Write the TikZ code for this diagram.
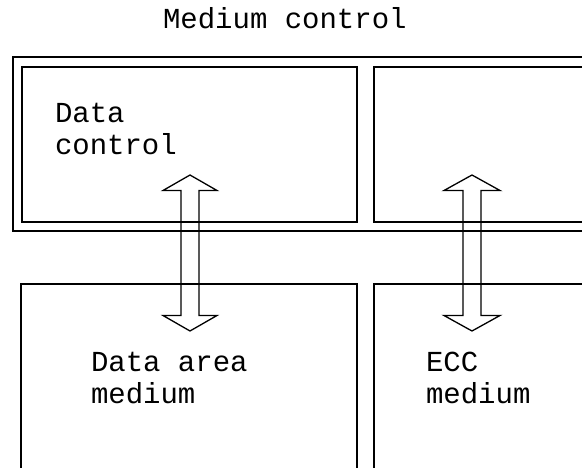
\documentclass[tikz,border=0pt]{standalone}
\usepackage{fontspec}
\setmonofont{Liberation Mono}
\usetikzlibrary{calc}
\tikzset{
  boxframe/.style={draw=black, line width=1.4pt, inner sep=0pt, outer sep=0pt, rectangle},
  lbl/.style={inner sep=0pt, outer sep=0pt, anchor=base west, align=left,
    font=\ttfamily\fontsize{29}{32}\selectfont},
  fatarrow/.style={draw=black, line width=1.3pt, line join=miter}
}
\begin{document}
\begin{tikzpicture}[x=1pt,y=-1pt]
\useasboundingbox (0,0) rectangle (582,468);
\clip (0,0) rectangle (582,468);
% title
\node[lbl] (title) at (163,29) {Medium control};
% outer frame of medium control
\node[boxframe, minimum width=600, minimum height=174] (outer) at (313,144) {};
% top boxes
\node[boxframe, minimum width=335, minimum height=155] (dctrl) at (189.5,144.5) {};
\node[boxframe, minimum width=240, minimum height=155] (ectrl) at (494,144.5) {};
% bottom boxes
\node[boxframe, minimum width=336, minimum height=220] (dmed) at (189,394) {};
\node[boxframe, minimum width=240, minimum height=220] (emed) at (494,394) {};
% labels (anchor is the baseline of the last line)
\node[lbl] (dctext) at (55,155) {Data\\control};
\node[lbl] (dmtext) at (91,403) {Data area\\medium};
\node[lbl] (emtext) at (426,403) {ECC\\medium};
% double arrows
\coordinate (a1t) at (190,175);
\coordinate (a1b) at (190,331);
\coordinate (a2t) at (472,175);
\coordinate (a2b) at (472,331);
\draw[fatarrow] (a1t) -- ($(a1t)+(27,15.5)$) -- ($(a1t)+(9,15.5)$) -- ($(a1b)+(9,-15.5)$)
  -- ($(a1b)+(27,-15.5)$) -- (a1b) -- ($(a1b)+(-27,-15.5)$) -- ($(a1b)+(-9,-15.5)$)
  -- ($(a1t)+(-9,15.5)$) -- ($(a1t)+(-27,15.5)$) -- cycle;
\draw[fatarrow] (a2t) -- ($(a2t)+(28,15.5)$) -- ($(a2t)+(9,15.5)$) -- ($(a2b)+(9,-15.5)$)
  -- ($(a2b)+(28,-15.5)$) -- (a2b) -- ($(a2b)+(-28,-15.5)$) -- ($(a2b)+(-9,-15.5)$)
  -- ($(a2t)+(-9,15.5)$) -- ($(a2t)+(-28,15.5)$) -- cycle;
\end{tikzpicture}
\end{document}
